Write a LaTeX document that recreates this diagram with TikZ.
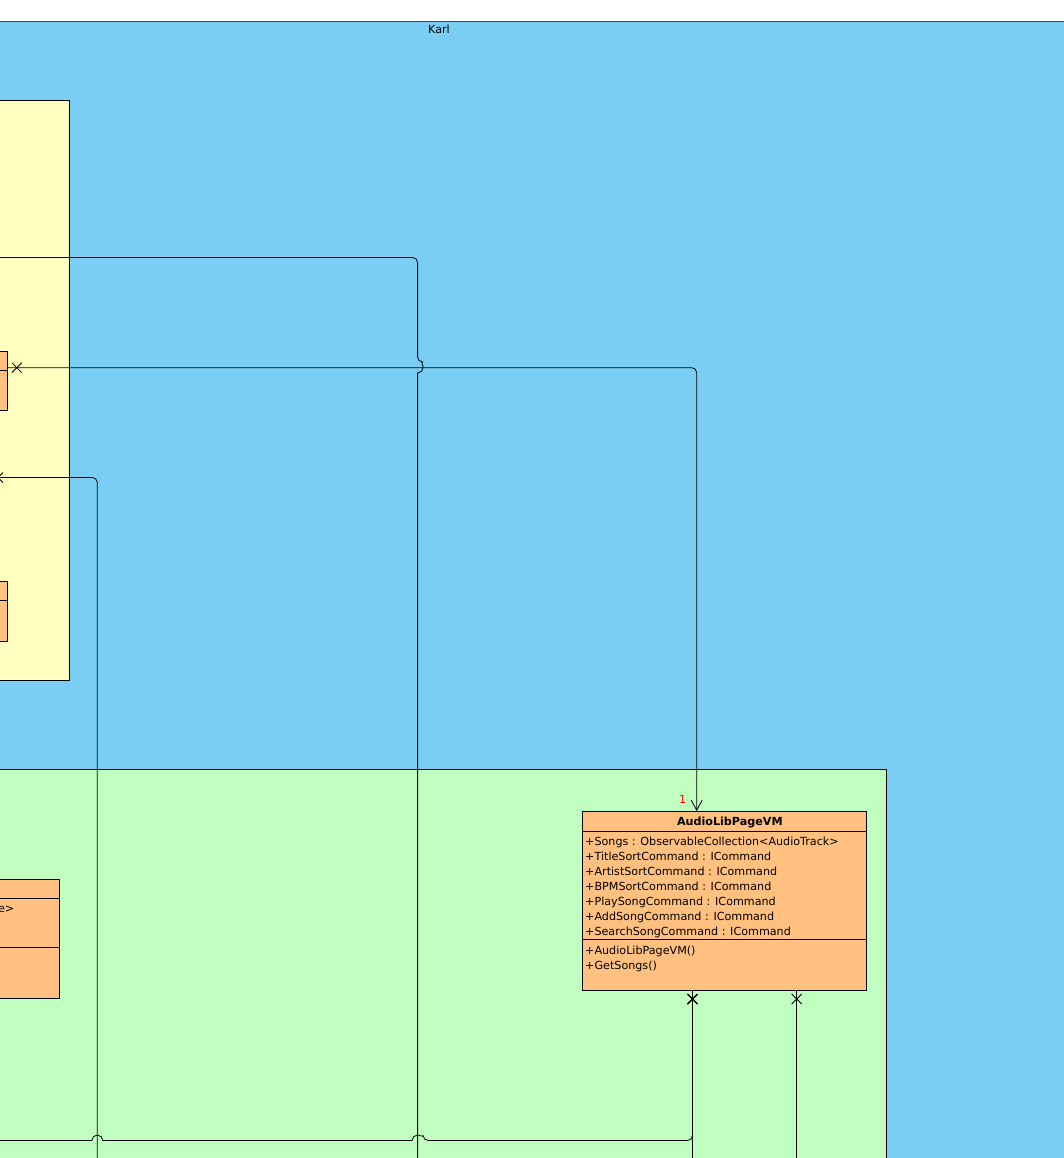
\documentclass[tikz,border=0pt]{standalone}
\usepackage{fontspec}
\setmainfont{DejaVu Sans}
\usetikzlibrary{arrows.meta}
\definecolor{bgblue}{HTML}{7ACEF4}
\definecolor{pkgyellow}{HTML}{FFFFC0}
\definecolor{pkggreen}{HTML}{C0FFC0}
\definecolor{clsorange}{HTML}{FFC080}
\definecolor{framegray}{HTML}{444444}
\tikzset{
  pkgbox/.style={draw=black, line width=0.8pt},
  clsbox/.style={draw=black, fill=clsorange, line width=0.8pt, inner sep=0pt},
  conn/.style={draw=black, line width=0.8pt},
  attr/.style={anchor=base west, inner sep=0pt},
  navx/.pic={\draw[line width=0.8pt] (-5,-5) -- (5,5) (-5,5) -- (5,-5);},
  navxbold/.pic={\draw[line width=1.4pt] (-5,-5) -- (5,5) (-5,5) -- (5,-5);}
}
\begin{document}
\begin{tikzpicture}[x=1pt, y=-1pt, font=\fontsize{11.15}{13}\selectfont]
\useasboundingbox (0,0) rectangle (1064,1158);
\clip (0,0) rectangle (1064,1158);
\fill[white] (0,0) rectangle (1064,1158);

% outer package
\draw[fill=bgblue, draw=framegray, line width=0.8pt] (-5,21.5) rectangle (1070,1175);
\node (karl) [anchor=base, inner sep=0pt] at (439,34) {Karl};

% yellow package
\node (ypkg) [pkgbox, fill=pkgyellow, anchor=north east, minimum width=80pt, minimum height=579.5pt] at (69.5,100.2) {};

% small class boxes in yellow package
\node (box1) [clsbox, anchor=north east, minimum width=60pt, minimum height=59.7pt] at (7.7,350.7) {};
\draw[line width=0.8pt] (-10,370.7) -- (box1.east |- 0,370.7);
\node (box2) [clsbox, anchor=north east, minimum width=60pt, minimum height=60pt] at (7.7,580.7) {};
\draw[line width=0.8pt] (-10,600.7) -- (box2.east |- 0,600.7);

% green package
\draw[pkgbox, fill=pkggreen] (-5,769.5) rectangle (886.3,1175);

% class box in green package (left, cut)
\node (box3) [clsbox, anchor=north east, minimum width=80pt, minimum height=119.3pt] at (59.5,878.7) {};
\draw[line width=0.8pt] (-25,898.7) -- (box3.east |- 0,898.7);
\draw[line width=0.8pt] (-25,947.7) -- (box3.east |- 0,947.7);
\node (box3txt) [anchor=base east, inner sep=0pt] at (14.5,912.3) {e>};

% AudioLibPageVM
\node (alp) [clsbox, anchor=north west, minimum width=283.4pt, minimum height=179.3pt] at (582.3,811) {};
\draw[line width=0.8pt] (alp.west |- 0,831.7) -- (alp.east |- 0,831.7);
\draw[line width=0.8pt] (alp.west |- 0,939.7) -- (alp.east |- 0,939.7);
\node (alptitle) [anchor=base, inner sep=0pt, font=\fontsize{11.15}{13}\selectfont\bfseries] at (729.8,825.3) {AudioLibPageVM};
\node (a1) [attr] at (585,845) {+Songs : ObservableCollection<AudioTrack>};
\node (a2) [attr] at (585,860) {+TitleSortCommand : ICommand};
\node (a3) [attr] at (585,875) {+ArtistSortCommand : ICommand};
\node (a4) [attr] at (585,890) {+BPMSortCommand : ICommand};
\node (a5) [attr] at (585,905) {+PlaySongCommand : ICommand};
\node (a6) [attr] at (585,920) {+AddSongCommand : ICommand};
\node (a7) [attr] at (585,935) {+SearchSongCommand : ICommand};
\node (m1) [attr] at (585,954) {+AudioLibPageVM()};
\node (m2) [attr] at (585,969) {+GetSongs()};
\node (mult) [anchor=base, inner sep=0pt, text=red] at (682.7,803.5) {1};

% free ends
\coordinate (aStart) at (-10,257.5);
\coordinate (aEnd) at (417.6,1175);
\coordinate (cStart) at (-10,477.5);
\coordinate (cEnd) at (97.3,1175);
\coordinate (dEnd) at (-10,1140.5);
\coordinate (eEnd) at (692.5,1175);
\coordinate (fEnd) at (796.7,1175);

% connector A (with hop over B)
\draw[conn] (aStart) [rounded corners=5pt] -- (417.6,257.5) -- (417.6,362) [sharp corners]
  arc[start angle=90, end angle=-90, radius=5.5pt] -- (aEnd);

% connector B
\draw[conn, rounded corners=5pt, -{Straight Barb[length=10pt, width=11pt]}]
  (box1.east |- 0,367.7) -- (696.7,367.7) -- (696.7,811);
\pic at (16.8,367.7) {navx};

% connector C
\draw[conn, rounded corners=5pt] (cStart) -- (97.3,477.5) -- (cEnd);
\pic at (-2,477.5) {navx};

% connector D (hops over C and A)
\draw[conn] (692.5,990.3) [rounded corners=5pt] -- (692.5,1140.5) -- (423.1,1140.5) [sharp corners]
  arc[start angle=0, end angle=180, radius=5.5pt] -- (102.8,1140.5)
  arc[start angle=0, end angle=180, radius=5.5pt] -- (dEnd);
\pic at (692.5,999) {navxbold};

% connector E
\draw[conn] (692.5,990.3) -- (eEnd);
\pic at (692.5,999) {navx};

% connector F
\draw[conn] (796.7,990.3) -- (fEnd);
\pic at (796.7,999) {navx};
\end{tikzpicture}
\end{document}
